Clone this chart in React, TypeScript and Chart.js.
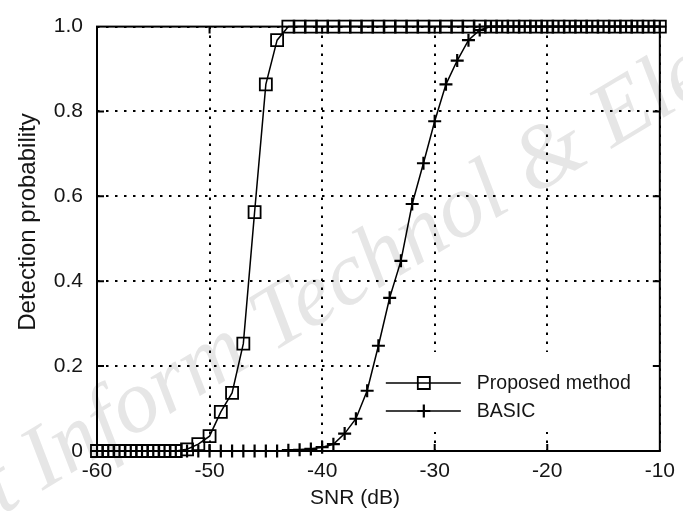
import React, { useEffect, useRef } from "react";
import { Chart, registerables } from "chart.js";
import { drawPoint } from "chart.js/helpers";

Chart.register(...registerables);

const snrDb = [
  -60, -59, -58, -57, -56, -55, -54, -53, -52, -51,
  -50, -49, -48, -47, -46, -45, -44, -43, -42, -41,
  -40, -39, -38, -37, -36, -35, -34, -33, -32, -31,
  -30, -29, -28, -27, -26, -25, -24, -23, -22, -21,
  -20, -19, -18, -17, -16, -15, -14, -13, -12, -11, -10,
];

const proposedPd = [
  0, 0, 0, 0, 0, 0, 0, 0, 0.004, 0.016,
  0.035, 0.092, 0.137, 0.253, 0.563, 0.864, 0.968, 1, 1, 1,
  1, 1, 1, 1, 1, 1, 1, 1, 1, 1,
  1, 1, 1, 1, 1, 1, 1, 1, 1, 1,
  1, 1, 1, 1, 1, 1, 1, 1, 1, 1, 1,
];

const basicPd = [
  0, 0, 0, 0, 0, 0, 0, 0, 0, 0,
  0, 0, 0, 0, 0, 0, 0, 0.002, 0.003, 0.005,
  0.009, 0.016, 0.041, 0.076, 0.142, 0.248, 0.361, 0.448, 0.582, 0.678,
  0.777, 0.864, 0.92, 0.968, 0.992, 1, 1, 1, 1, 1,
  1, 1, 1, 1, 1, 1, 1, 1, 1, 1, 1,
];

const seriesNames = ["Proposed method", "BASIC"];
const xTickValues = [-60, -50, -40, -30, -20, -10];
const yTickValues = [0, 0.2, 0.4, 0.6, 0.8, 1.0];
const xTitle = "SNR (dB)";
const yTitle = "Detection probability";
const watermark = "Front Inform Technol & Electron Eng";

const FONT = '"Liberation Sans", Arial, sans-serif';
const TEXT = "#151515";

const decorPlugin = {
  id: "decor",
  beforeDraw(chart: any) {
    const { ctx } = chart;
    ctx.save();
    ctx.font = 'italic 90px "Liberation Serif", serif';
    ctx.fillStyle = "#e6e6e6";
    ctx.textBaseline = "alphabetic";
    ctx.textAlign = "left";
    const off = ctx.measureText("Fron").width;
    ctx.translate(2, 515);
    ctx.rotate((-31 * Math.PI) / 180);
    ctx.fillText(watermark, -off, 0);
    ctx.restore();
  },
  afterDatasetsDraw(chart: any) {
    const { ctx, chartArea, scales } = chart;
    const { left, right, top, bottom } = chartArea;
    ctx.save();
    ctx.setLineDash([]);

    // legend box
    const bx = right - 277;
    const by = bottom - 99;
    ctx.fillStyle = "#fff";
    ctx.fillRect(bx, by, 275, 80);
    chart.data.datasets.forEach((ds: any, i: number) => {
      const ly = by + 31 + i * 28;
      ctx.strokeStyle = "#000";
      ctx.lineWidth = 1.6;
      ctx.beginPath();
      ctx.moveTo(right - 274, ly);
      ctx.lineTo(right - 199, ly);
      ctx.stroke();
      ctx.lineWidth = ds.pointBorderWidth;
      ctx.fillStyle = "rgba(0,0,0,0)";
      drawPoint(
        ctx,
        { pointStyle: ds.pointStyle, radius: ds.pointRadius, borderWidth: ds.pointBorderWidth, rotation: 0 } as any,
        right - 236,
        ly
      );
      ctx.fillStyle = TEXT;
      ctx.font = `19.5px ${FONT}`;
      ctx.textBaseline = "middle";
      ctx.textAlign = "left";
      ctx.fillText(ds.label, right - 183, ly + 1);
    });

    // frame
    ctx.strokeStyle = "#000";
    ctx.lineWidth = 2;
    ctx.strokeRect(left, top, right - left, bottom - top);
    const tl = 7;
    ctx.beginPath();
    xTickValues.forEach((v) => {
      const px = scales.x.getPixelForValue(v);
      if (px > left + 2 && px < right - 2) {
        ctx.moveTo(px, bottom);
        ctx.lineTo(px, bottom - tl);
        ctx.moveTo(px, top);
        ctx.lineTo(px, top + tl);
      }
    });
    yTickValues.forEach((v) => {
      const py = scales.y.getPixelForValue(v);
      if (py > top + 2 && py < bottom - 2) {
        ctx.moveTo(left, py);
        ctx.lineTo(left + tl, py);
        ctx.moveTo(right, py);
        ctx.lineTo(right - tl, py);
      }
    });
    ctx.stroke();

    // axis titles
    ctx.fillStyle = TEXT;
    ctx.font = `21px ${FONT}`;
    ctx.textAlign = "center";
    ctx.textBaseline = "middle";
    ctx.fillText(xTitle, 355, 498);
    ctx.font = `24px ${FONT}`;
    ctx.translate(28, 222);
    ctx.rotate(-Math.PI / 2);
    ctx.fillText(yTitle, 0, 0);
    ctx.restore();
  },
};

export default function App() {
  const ref = useRef<HTMLCanvasElement | null>(null);

  useEffect(() => {
    if (!ref.current) return;
    const chart = new Chart(ref.current, {
      type: "line",
      data: {
        datasets: [
          {
            label: seriesNames[0],
            data: snrDb.map((x, i) => ({ x, y: proposedPd[i] })),
            borderColor: "#000",
            borderWidth: 1.5,
            pointStyle: "rect",
            pointRadius: 8.5,
            pointBorderWidth: 1.8,
            pointBorderColor: "#000",
            pointBackgroundColor: "rgba(0,0,0,0)",
            tension: 0,
            clip: false as any,
          },
          {
            label: seriesNames[1],
            data: snrDb.map((x, i) => ({ x, y: basicPd[i] })),
            borderColor: "#000",
            borderWidth: 1.5,
            pointStyle: "cross",
            pointRadius: 6.5,
            pointBorderWidth: 2.2,
            pointBorderColor: "#000",
            pointBackgroundColor: "#000",
            tension: 0,
            clip: false as any,
          },
        ],
      },
      options: {
        animation: false,
        responsive: true,
        maintainAspectRatio: false,
        layout: { padding: { left: 0, top: 16, right: 23, bottom: 0 } },
        plugins: { legend: { display: false }, tooltip: { enabled: false } },
        events: [],
        scales: {
          x: {
            type: "linear",
            min: -60,
            max: -10,
            afterFit: (s: any) => {
              s.height = 72;
            },
            ticks: {
              stepSize: 10,
              padding: 8,
              color: TEXT,
              font: { size: 21, family: FONT },
              maxRotation: 0,
            },
            grid: { color: "#000", lineWidth: 2, drawTicks: false },
            border: { display: false, dash: [2.5, 6.5] },
          },
          y: {
            type: "linear",
            min: 0,
            max: 1,
            afterFit: (s: any) => {
              s.width = 97;
            },
            ticks: {
              stepSize: 0.2,
              padding: 14,
              color: TEXT,
              font: { size: 21, family: FONT },
              callback: (v: any) => (Number(v) === 0 ? "0" : Number(v).toFixed(1)),
            },
            grid: { color: "#000", lineWidth: 2, drawTicks: false },
            border: { display: false, dash: [2.5, 6.5] },
          },
        },
      },
      plugins: [decorPlugin],
    });
    return () => chart.destroy();
  }, []);

  return (
    <div style={{ position: "fixed", left: 0, top: 0, width: 683, height: 523, background: "#fff" }}>
      <canvas ref={ref} />
    </div>
  );
}
